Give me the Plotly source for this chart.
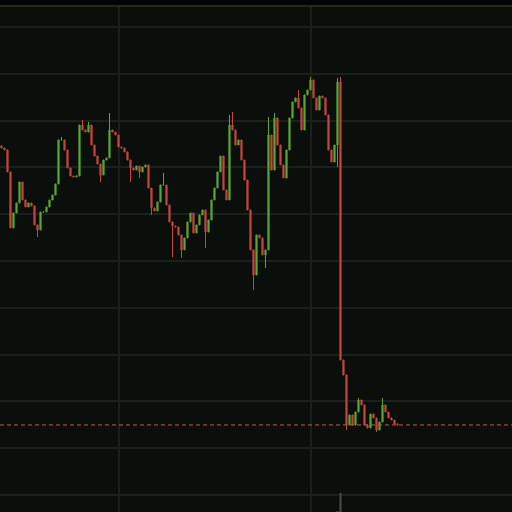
import plotly.graph_objects as go

# ---- data ----
closes = [
    42.07, 41.86, 39.51, 33.53, 35.13, 36.20, 38.44, 36.52, 35.77, 36.20,
    35.88, 33.85, 33.31, 35.24, 35.24, 35.77, 36.52, 37.05, 38.23, 42.93,
    42.93, 41.86, 39.94, 39.08, 38.98, 39.08, 44.53, 44.00, 43.78, 44.53,
    42.39, 41.22, 40.36, 39.19, 40.79, 41.01, 44.00, 43.78, 43.46, 42.18,
    42.07, 41.65, 40.79, 39.94, 39.72, 40.15, 39.51, 40.04, 40.26, 37.80,
    35.66, 35.34, 36.30, 38.12, 38.12, 35.98, 34.17, 33.74, 33.63, 32.78,
    31.18, 32.46, 34.17, 35.13, 32.99, 33.85, 34.92, 35.45, 33.10, 34.38,
    36.52, 37.80, 39.51, 41.22, 37.59, 36.52, 44.53, 44.00, 42.39, 42.93,
    40.79, 38.65, 35.45, 31.18, 28.50, 32.78, 32.46, 30.64, 31.18, 43.46,
    39.72, 45.28, 42.39, 40.26, 38.87, 41.86, 45.28, 46.99, 47.42, 46.35,
    44.00, 47.74, 48.27, 49.34, 47.42, 46.13, 47.63, 47.42, 45.60, 41.86,
    40.58, 42.39, 49.12, 19.42, 17.82, 12.48, 13.55, 12.48, 13.87, 15.15,
    14.62, 12.48, 12.16, 13.65, 13.23, 11.94, 12.80, 14.62, 13.87, 13.23,
    13.01, 12.59, 12.48,
]
first_open = 42.30
opens = [first_open] + closes[:-1]

wick_high = {20: 43.25, 27: 45.06, 29: 44.85, 36: 45.81, 54: 39.40, 76: 45.60,
             77: 45.92, 89: 45.39, 91: 45.81, 99: 48.27, 103: 49.66, 112: 49.55,
             113: 49.66, 119: 15.36, 127: 15.36}
wick_low = {12: 32.56, 33: 38.44, 43: 38.44, 46: 38.87, 50: 34.92, 57: 30.43,
            60: 30.32, 68: 31.39, 84: 26.90, 88: 29.25, 112: 40.04, 115: 11.94,
            125: 11.73}

highs = [max(o, c, wick_high.get(i, 0)) for i, (o, c) in enumerate(zip(opens, closes))]
lows = [min(o, c, wick_low.get(i, 1e9)) for i, (o, c) in enumerate(zip(opens, closes))]
idx = list(range(len(closes)))

volumes = [0] * len(closes)
volumes[112] = 40
volumes[113] = 1000

GREEN = "#5aa832"
RED = "#c9463f"

fig = go.Figure()
fig.add_trace(go.Bar(
    x=idx, y=volumes, yaxis="y2", marker_color="#4a4a4a",
    marker_line_width=0, width=0.7, showlegend=False, hoverinfo="skip",
))
fig.add_trace(go.Candlestick(
    x=idx, open=opens, high=highs, low=lows, close=closes,
    increasing=dict(line=dict(color=GREEN, width=1), fillcolor=GREEN),
    decreasing=dict(line=dict(color=RED, width=1), fillcolor=RED),
    whiskerwidth=0, showlegend=False,
))

fig.add_shape(type="line", xref="paper", x0=0, x1=1, yref="y",
              y0=closes[-1], y1=closes[-1],
              line=dict(color="#d0554d", width=1, dash="4px,3px"))
fig.add_shape(type="line", xref="paper", x0=0, x1=1, yref="paper", y0=1, y1=1,
              line=dict(color="#1f2a21", width=2))

fig.update_layout(
    width=512, height=512,
    margin=dict(l=0, r=0, t=6, b=0),
    paper_bgcolor="#020302",
    plot_bgcolor="#0b0f0c",
    xaxis=dict(range=[-0.5, 170.17], tickmode="array", tickvals=[39.17, 103.17],
               showticklabels=False, showgrid=True, gridcolor="#1b201c", gridwidth=2,
               zeroline=False, showline=False, rangeslider=dict(visible=False)),
    yaxis=dict(range=[3.18, 57.24], tick0=0, dtick=5, showticklabels=False,
               showgrid=True, gridcolor="#1b201c", gridwidth=2, zeroline=False),
    yaxis2=dict(overlaying="y", range=[0, max(volumes) * 26.6], visible=False,
                showgrid=False),
    bargap=0.3,
    boxgap=0.45,
)

fig.write_html("out.html")
